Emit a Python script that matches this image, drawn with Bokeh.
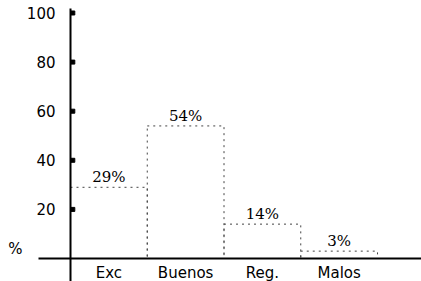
from bokeh.plotting import figure
from bokeh.models import ColumnDataSource, Range1d
from bokeh.core.properties import value
from bokeh.embed import file_html
from bokeh.resources import INLINE

# ---- data ----
categories = ["Exc", "Buenos", "Reg.", "Malos"]
percents = [29, 54, 14, 3]
pct_labels = ["29%", "54%", "14%", "3%"]
y_ticks = [20, 40, 60, 80, 100]
y_tick_labels = ["20", "40", "60", "80", "100"]
axis_label = "%"

n = len(categories)
src = ColumnDataSource(dict(
    left=[i for i in range(n)],
    right=[i + 1 for i in range(n)],
    center=[i + 0.5 for i in range(n)],
    bottom=[0] * n,
    top=percents,
    cat=categories,
    lab=pct_labels,
))
tick_src = ColumnDataSource(dict(y=y_ticks, lab=y_tick_labels, x=[0] * len(y_ticks)))

p = figure(width=421, height=281, output_backend="svg", toolbar_location=None,
           x_range=Range1d(-0.912, 4.573), y_range=Range1d(-9.37, 105.09),
           x_axis_location=None, y_axis_location=None, min_border=0)
p.grid.visible = False
p.outline_line_color = None
p.background_fill_color = "white"

# bars: dotted outlines
p.quad(left="left", right="right", bottom="bottom", top="top", source=src,
       fill_color=None, line_color="#444444", line_width=1, line_dash="2 4")

# axes lines
p.segment(x0=[-0.417], y0=[0], x1=[4.6], y1=[0], line_color="black", line_width=2)
p.segment(x0=[0], y0=[101.8], x1=[0], y1=[-10], line_color="black", line_width=2)

# tick marks
p.rect(x=0.03, y="y", width=4, height=4, width_units="screen", height_units="screen",
       source=tick_src, fill_color="black", line_color="black")

# tick labels
p.text(x="x", y="y", text="lab", source=tick_src, x_offset=-15,
       text_align="right", text_baseline="middle",
       text_font=value("DejaVu Sans"), text_font_size="15px", text_color="black")

# axis unit label
p.text(x=[-0.717], y=[4.07], text=[axis_label], text_align="center", text_baseline="middle",
       text_font=value("DejaVu Sans"), text_font_size="15px", text_color="black")

# category labels
p.text(x="center", y="bottom", text="cat", source=src, y_offset=15,
       text_align="center", text_baseline="middle",
       text_font=value("DejaVu Sans"), text_font_size="15px", text_color="black")

# value labels
p.text(x="center", y="top", text="lab", source=src, y_offset=-10,
       text_align="center", text_baseline="middle",
       text_font=value("DejaVu Serif"), text_font_size="15px", text_color="black")

open("out.html", "w").write(file_html(p, INLINE))
